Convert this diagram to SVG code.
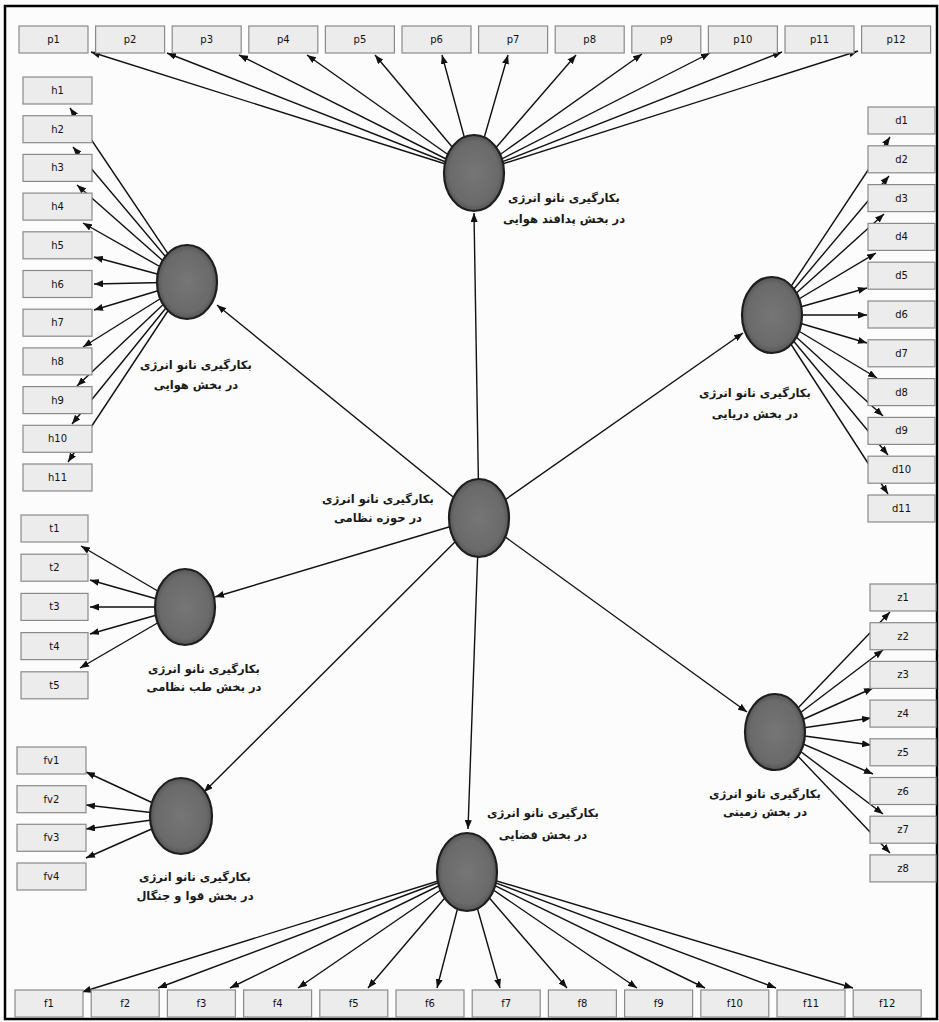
<svg xmlns="http://www.w3.org/2000/svg" width="939" height="1022" viewBox="0 0 939 1022">
<defs>
<radialGradient id="g" cx="50%" cy="50%" r="55%">
<stop offset="0" stop-color="#767676"/>
<stop offset="0.75" stop-color="#6a6a6a"/>
<stop offset="1" stop-color="#4a4a4a"/>
</radialGradient>
<marker id="ah" viewBox="0 0 9 7" refX="9" refY="3.5" markerWidth="9" markerHeight="7" markerUnits="userSpaceOnUse" orient="auto">
<path d="M0,0 L9,3.5 L0,7 z" fill="#111"/>
</marker>
</defs>
<style>
.ln{stroke:#111;stroke-width:1.4;fill:none;marker-end:url(#ah)}
.box{fill:#ececec;stroke:#8a8a8a;stroke-width:1.2}
.bt{font-family:"DejaVu Sans",sans-serif;font-size:10px;text-anchor:middle;fill:#111}
.c{fill:url(#g);stroke:#1e1e1e;stroke-width:2.2}
.lbl{font-family:"DejaVu Sans",sans-serif;font-size:11.5px;font-weight:bold;text-anchor:middle;fill:#1a1a1a;direction:rtl}
</style>
<rect x="0" y="0" width="939" height="1022" fill="#fcfcfc"/>
<rect x="5" y="6" width="932" height="1013" fill="none" stroke="#000" stroke-width="2.5"/>
<g id="connectors">
<!-- main to sub -->
<line class="ln" x1="479" y1="518" x2="474" y2="213"/>
<line class="ln" x1="479" y1="518" x2="217" y2="305"/>
<line class="ln" x1="479" y1="518" x2="743" y2="333"/>
<line class="ln" x1="479" y1="518" x2="215" y2="597"/>
<line class="ln" x1="479" y1="518" x2="204" y2="792"/>
<line class="ln" x1="479" y1="518" x2="747" y2="712"/>
<line class="ln" x1="479" y1="518" x2="468" y2="829"/>
<!-- p fan -->
<line class="ln" x1="474" y1="173" x2="91" y2="52"/>
<line class="ln" x1="474" y1="173" x2="167" y2="53"/>
<line class="ln" x1="474" y1="173" x2="239" y2="55"/>
<line class="ln" x1="474" y1="173" x2="307" y2="55"/>
<line class="ln" x1="474" y1="173" x2="375" y2="55"/>
<line class="ln" x1="474" y1="173" x2="442" y2="55"/>
<line class="ln" x1="474" y1="173" x2="508" y2="55"/>
<line class="ln" x1="474" y1="173" x2="576" y2="55"/>
<line class="ln" x1="474" y1="173" x2="642" y2="54"/>
<line class="ln" x1="474" y1="173" x2="710" y2="53"/>
<line class="ln" x1="474" y1="173" x2="782" y2="52"/>
<line class="ln" x1="474" y1="173" x2="858" y2="51"/>
<!-- h fan -->
<line class="ln" x1="187" y1="282" x2="70" y2="108"/>
<line class="ln" x1="187" y1="282" x2="73" y2="147"/>
<line class="ln" x1="187" y1="282" x2="77" y2="185"/>
<line class="ln" x1="187" y1="282" x2="83" y2="223"/>
<line class="ln" x1="187" y1="282" x2="94" y2="257"/>
<line class="ln" x1="187" y1="282" x2="94" y2="284"/>
<line class="ln" x1="187" y1="282" x2="94" y2="310"/>
<line class="ln" x1="187" y1="282" x2="83" y2="347"/>
<line class="ln" x1="187" y1="282" x2="77" y2="386"/>
<line class="ln" x1="187" y1="282" x2="72" y2="424"/>
<line class="ln" x1="187" y1="282" x2="68" y2="462"/>
<!-- d fan -->
<line class="ln" x1="772" y1="315" x2="890" y2="137"/>
<line class="ln" x1="772" y1="315" x2="889" y2="176"/>
<line class="ln" x1="772" y1="315" x2="884" y2="214"/>
<line class="ln" x1="772" y1="315" x2="876" y2="253"/>
<line class="ln" x1="772" y1="315" x2="867" y2="288"/>
<line class="ln" x1="772" y1="315" x2="867" y2="315"/>
<line class="ln" x1="772" y1="315" x2="867" y2="343"/>
<line class="ln" x1="772" y1="315" x2="877" y2="378"/>
<line class="ln" x1="772" y1="315" x2="883" y2="416"/>
<line class="ln" x1="772" y1="315" x2="888" y2="455"/>
<line class="ln" x1="772" y1="315" x2="888" y2="494"/>
<!-- t fan -->
<line class="ln" x1="185" y1="607" x2="81" y2="546"/>
<line class="ln" x1="185" y1="607" x2="90" y2="580"/>
<line class="ln" x1="185" y1="607" x2="90" y2="607"/>
<line class="ln" x1="185" y1="607" x2="90" y2="634"/>
<line class="ln" x1="185" y1="607" x2="80" y2="668"/>
<!-- fv fan -->
<line class="ln" x1="181" y1="816" x2="86" y2="772"/>
<line class="ln" x1="181" y1="816" x2="86" y2="805"/>
<line class="ln" x1="181" y1="816" x2="86" y2="829"/>
<line class="ln" x1="181" y1="816" x2="86" y2="858"/>
<!-- z fan -->
<line class="ln" x1="775" y1="732" x2="890" y2="612"/>
<line class="ln" x1="775" y1="732" x2="883" y2="650"/>
<line class="ln" x1="775" y1="732" x2="873" y2="688"/>
<line class="ln" x1="775" y1="732" x2="871" y2="718"/>
<line class="ln" x1="775" y1="732" x2="871" y2="745"/>
<line class="ln" x1="775" y1="732" x2="873" y2="774"/>
<line class="ln" x1="775" y1="732" x2="883" y2="814"/>
<line class="ln" x1="775" y1="732" x2="890" y2="853"/>
<!-- f fan -->
<line class="ln" x1="467" y1="872" x2="82" y2="992"/>
<line class="ln" x1="467" y1="872" x2="158" y2="988"/>
<line class="ln" x1="467" y1="872" x2="230" y2="988"/>
<line class="ln" x1="467" y1="872" x2="298" y2="988"/>
<line class="ln" x1="467" y1="872" x2="368" y2="988"/>
<line class="ln" x1="467" y1="872" x2="437" y2="988"/>
<line class="ln" x1="467" y1="872" x2="500" y2="988"/>
<line class="ln" x1="467" y1="872" x2="567" y2="988"/>
<line class="ln" x1="467" y1="872" x2="637" y2="988"/>
<line class="ln" x1="467" y1="872" x2="705" y2="988"/>
<line class="ln" x1="467" y1="872" x2="776" y2="988"/>
<line class="ln" x1="467" y1="872" x2="853" y2="988"/>
</g>
<g id="latent-nodes">
<g id="n-main"><ellipse class="c" cx="479" cy="518" rx="30" ry="39"/><text class="lbl" x="378" y="503">بکارگیری نانو انرژی</text><text class="lbl" x="378" y="522">در حوزه نظامی</text></g>
<g id="n-p"><ellipse class="c" cx="474" cy="173" rx="30" ry="38"/><text class="lbl" x="564" y="202">بکارگیری نانو انرژی</text><text class="lbl" x="564" y="223">در بخش پدافند هوایی</text></g>
<g id="n-h"><ellipse class="c" cx="187" cy="282" rx="30" ry="37"/><text class="lbl" x="196" y="369">بکارگیری نانو انرژی</text><text class="lbl" x="196" y="389">در بخش هوایی</text></g>
<g id="n-d"><ellipse class="c" cx="772" cy="315" rx="30" ry="38"/><text class="lbl" x="755" y="397">بکارگیری نانو انرژی</text><text class="lbl" x="755" y="418">در بخش دریایی</text></g>
<g id="n-t"><ellipse class="c" cx="185" cy="607" rx="30" ry="38"/><text class="lbl" x="204" y="673">بکارگیری نانو انرژی</text><text class="lbl" x="204" y="691">در بخش طب نظامی</text></g>
<g id="n-fv"><ellipse class="c" cx="181" cy="816" rx="31" ry="38"/><text class="lbl" x="195" y="881">بکارگیری نانو انرژی</text><text class="lbl" x="195" y="900">در بخش قوا و جنگال</text></g>
<g id="n-z"><ellipse class="c" cx="775" cy="732" rx="30" ry="38"/><text class="lbl" x="765" y="798">بکارگیری نانو انرژی</text><text class="lbl" x="765" y="816">در بخش زمینی</text></g>
<g id="n-f"><ellipse class="c" cx="467" cy="872" rx="30" ry="39"/><text class="lbl" x="543" y="817">بکارگیری نانو انرژی</text><text class="lbl" x="543" y="839">در بخش فضایی</text></g>
</g>
<g id="indicators">
<g id="p1"><rect class="box" x="19" y="26" width="69" height="27"/><text class="bt" x="53.5" y="43">p1</text></g>
<g id="p2"><rect class="box" x="95.6" y="26" width="69" height="27"/><text class="bt" x="130.1" y="43">p2</text></g>
<g id="p3"><rect class="box" x="172.2" y="26" width="69" height="27"/><text class="bt" x="206.7" y="43">p3</text></g>
<g id="p4"><rect class="box" x="248.8" y="26" width="69" height="27"/><text class="bt" x="283.3" y="43">p4</text></g>
<g id="p5"><rect class="box" x="325.4" y="26" width="69" height="27"/><text class="bt" x="359.9" y="43">p5</text></g>
<g id="p6"><rect class="box" x="402" y="26" width="69" height="27"/><text class="bt" x="436.5" y="43">p6</text></g>
<g id="p7"><rect class="box" x="478.6" y="26" width="69" height="27"/><text class="bt" x="513.1" y="43">p7</text></g>
<g id="p8"><rect class="box" x="555.2" y="26" width="69" height="27"/><text class="bt" x="589.7" y="43">p8</text></g>
<g id="p9"><rect class="box" x="631.8" y="26" width="69" height="27"/><text class="bt" x="666.3" y="43">p9</text></g>
<g id="p10"><rect class="box" x="708.4" y="26" width="69" height="27"/><text class="bt" x="742.9" y="43">p10</text></g>
<g id="p11"><rect class="box" x="785" y="26" width="69" height="27"/><text class="bt" x="819.5" y="43">p11</text></g>
<g id="p12"><rect class="box" x="861.6" y="26" width="69" height="27"/><text class="bt" x="896.1" y="43">p12</text></g>

<g id="h1"><rect class="box" x="23" y="77" width="69" height="27"/><text class="bt" x="57.5" y="94">h1</text></g>
<g id="h2"><rect class="box" x="23" y="115.7" width="69" height="27"/><text class="bt" x="57.5" y="132.7">h2</text></g>
<g id="h3"><rect class="box" x="23" y="154.4" width="69" height="27"/><text class="bt" x="57.5" y="171.4">h3</text></g>
<g id="h4"><rect class="box" x="23" y="193.1" width="69" height="27"/><text class="bt" x="57.5" y="210.1">h4</text></g>
<g id="h5"><rect class="box" x="23" y="231.8" width="69" height="27"/><text class="bt" x="57.5" y="248.8">h5</text></g>
<g id="h6"><rect class="box" x="23" y="270.5" width="69" height="27"/><text class="bt" x="57.5" y="287.5">h6</text></g>
<g id="h7"><rect class="box" x="23" y="309.2" width="69" height="27"/><text class="bt" x="57.5" y="326.2">h7</text></g>
<g id="h8"><rect class="box" x="23" y="347.9" width="69" height="27"/><text class="bt" x="57.5" y="364.9">h8</text></g>
<g id="h9"><rect class="box" x="23" y="386.6" width="69" height="27"/><text class="bt" x="57.5" y="403.6">h9</text></g>
<g id="h10"><rect class="box" x="23" y="425.3" width="69" height="27"/><text class="bt" x="57.5" y="442.3">h10</text></g>
<g id="h11"><rect class="box" x="23" y="464" width="69" height="27"/><text class="bt" x="57.5" y="481">h11</text></g>

<g id="d1"><rect class="box" x="868" y="107" width="67" height="27"/><text class="bt" x="901.5" y="124">d1</text></g>
<g id="d2"><rect class="box" x="868" y="145.8" width="67" height="27"/><text class="bt" x="901.5" y="162.8">d2</text></g>
<g id="d3"><rect class="box" x="868" y="184.6" width="67" height="27"/><text class="bt" x="901.5" y="201.6">d3</text></g>
<g id="d4"><rect class="box" x="868" y="223.4" width="67" height="27"/><text class="bt" x="901.5" y="240.4">d4</text></g>
<g id="d5"><rect class="box" x="868" y="262.2" width="67" height="27"/><text class="bt" x="901.5" y="279.2">d5</text></g>
<g id="d6"><rect class="box" x="868" y="301" width="67" height="27"/><text class="bt" x="901.5" y="318">d6</text></g>
<g id="d7"><rect class="box" x="868" y="339.8" width="67" height="27"/><text class="bt" x="901.5" y="356.8">d7</text></g>
<g id="d8"><rect class="box" x="868" y="378.6" width="67" height="27"/><text class="bt" x="901.5" y="395.6">d8</text></g>
<g id="d9"><rect class="box" x="868" y="417.4" width="67" height="27"/><text class="bt" x="901.5" y="434.4">d9</text></g>
<g id="d10"><rect class="box" x="868" y="456.2" width="67" height="27"/><text class="bt" x="901.5" y="473.2">d10</text></g>
<g id="d11"><rect class="box" x="868" y="495" width="67" height="27"/><text class="bt" x="901.5" y="512">d11</text></g>

<g id="t1"><rect class="box" x="21" y="515" width="67" height="27"/><text class="bt" x="54.5" y="532">t1</text></g>
<g id="t2"><rect class="box" x="21" y="554.2" width="67" height="27"/><text class="bt" x="54.5" y="571.2">t2</text></g>
<g id="t3"><rect class="box" x="21" y="593.4" width="67" height="27"/><text class="bt" x="54.5" y="610.4">t3</text></g>
<g id="t4"><rect class="box" x="21" y="632.6" width="67" height="27"/><text class="bt" x="54.5" y="649.6">t4</text></g>
<g id="t5"><rect class="box" x="21" y="671.8" width="67" height="27"/><text class="bt" x="54.5" y="688.8">t5</text></g>

<g id="fv1"><rect class="box" x="17" y="747" width="69" height="27"/><text class="bt" x="51.5" y="764">fv1</text></g>
<g id="fv2"><rect class="box" x="17" y="785.7" width="69" height="27"/><text class="bt" x="51.5" y="802.7">fv2</text></g>
<g id="fv3"><rect class="box" x="17" y="824.3" width="69" height="27"/><text class="bt" x="51.5" y="841.3">fv3</text></g>
<g id="fv4"><rect class="box" x="17" y="863" width="69" height="27"/><text class="bt" x="51.5" y="880">fv4</text></g>

<g id="z1"><rect class="box" x="870" y="584" width="66" height="27"/><text class="bt" x="903" y="601">z1</text></g>
<g id="z2"><rect class="box" x="870" y="622.7" width="66" height="27"/><text class="bt" x="903" y="639.7">z2</text></g>
<g id="z3"><rect class="box" x="870" y="661.4" width="66" height="27"/><text class="bt" x="903" y="678.4">z3</text></g>
<g id="z4"><rect class="box" x="870" y="700.1" width="66" height="27"/><text class="bt" x="903" y="717.1">z4</text></g>
<g id="z5"><rect class="box" x="870" y="738.8" width="66" height="27"/><text class="bt" x="903" y="755.8">z5</text></g>
<g id="z6"><rect class="box" x="870" y="777.5" width="66" height="27"/><text class="bt" x="903" y="794.5">z6</text></g>
<g id="z7"><rect class="box" x="870" y="816.2" width="66" height="27"/><text class="bt" x="903" y="833.2">z7</text></g>
<g id="z8"><rect class="box" x="870" y="854.9" width="66" height="27"/><text class="bt" x="903" y="871.9">z8</text></g>

<g id="f1"><rect class="box" x="15" y="990" width="68" height="27"/><text class="bt" x="49" y="1007">f1</text></g>
<g id="f2"><rect class="box" x="91.2" y="990" width="68" height="27"/><text class="bt" x="125.2" y="1007">f2</text></g>
<g id="f3"><rect class="box" x="167.4" y="990" width="68" height="27"/><text class="bt" x="201.4" y="1007">f3</text></g>
<g id="f4"><rect class="box" x="243.6" y="990" width="68" height="27"/><text class="bt" x="277.6" y="1007">f4</text></g>
<g id="f5"><rect class="box" x="319.8" y="990" width="68" height="27"/><text class="bt" x="353.8" y="1007">f5</text></g>
<g id="f6"><rect class="box" x="396" y="990" width="68" height="27"/><text class="bt" x="430" y="1007">f6</text></g>
<g id="f7"><rect class="box" x="472.2" y="990" width="68" height="27"/><text class="bt" x="506.2" y="1007">f7</text></g>
<g id="f8"><rect class="box" x="548.4" y="990" width="68" height="27"/><text class="bt" x="582.4" y="1007">f8</text></g>
<g id="f9"><rect class="box" x="624.6" y="990" width="68" height="27"/><text class="bt" x="658.6" y="1007">f9</text></g>
<g id="f10"><rect class="box" x="700.8" y="990" width="68" height="27"/><text class="bt" x="734.8" y="1007">f10</text></g>
<g id="f11"><rect class="box" x="777" y="990" width="68" height="27"/><text class="bt" x="811" y="1007">f11</text></g>
<g id="f12"><rect class="box" x="853.2" y="990" width="68" height="27"/><text class="bt" x="887.2" y="1007">f12</text></g>
</g>
</svg>
